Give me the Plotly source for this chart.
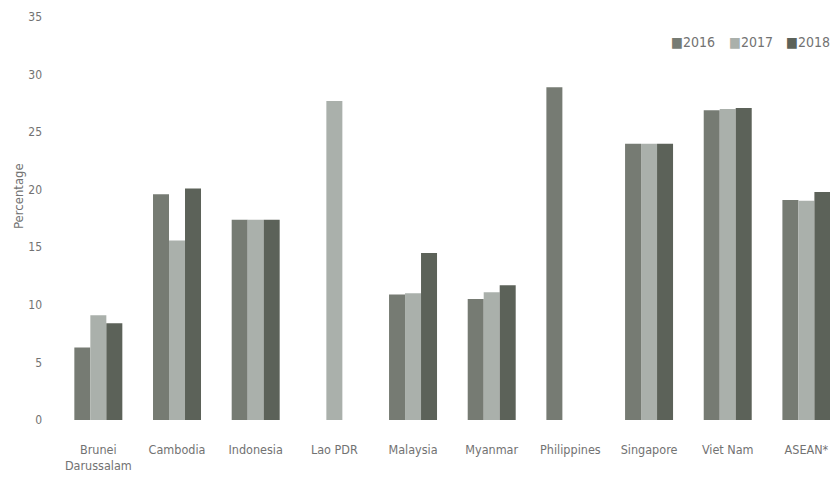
import plotly.graph_objects as go

# Share by country and year (percent)
countries = ["Brunei<br>Darussalam", "Cambodia", "Indonesia", "Lao PDR", "Malaysia",
             "Myanmar", "Philippines", "Singapore", "Viet Nam", "ASEAN*"]
years = ["2016", "2017", "2018"]
values_2016 = [6.3, 19.6, 17.4, None, 10.9, 10.5, 28.9, 24.0, 26.9, 19.1]
values_2017 = [9.1, 15.6, 17.4, 27.7, 11.0, 11.1, None, 24.0, 27.0, 19.05]
values_2018 = [8.4, 20.1, 17.4, None, 14.5, 11.7, None, 24.0, 27.1, 19.8]
y_ticks = [0, 5, 10, 15, 20, 25, 30, 35]

series = [values_2016, values_2017, values_2018]
colors = ["#767b73", "#aab0ab", "#5c6259"]

FONT = "Liberation Sans Narrow, DejaVu Sans Condensed, Roboto, sans-serif"
TEXT = "#727272"

# plot-area geometry in pixels
L, T, W, H = 59, 17, 771, 403

fig = go.Figure()
for name, vals, col in zip(years, series, colors):
    fig.add_trace(go.Bar(x=list(range(len(countries))), y=vals, name=name,
                         marker=dict(color=col, line=dict(width=0))))

# Legend row drawn as coloured squares followed by the year
legend_x0 = 669
legend_step = 57.5
for i, (name, col) in enumerate(zip(years, colors)):
    fig.add_annotation(
        xref="paper", yref="paper",
        x=(legend_x0 + i * legend_step - L) / W, y=(T + H - 42) / H,
        xanchor="left", yanchor="middle", showarrow=False,
        text=f"<span style='color:{col}'>■</span>{name}",
        font=dict(family=FONT, size=14, color=TEXT),
    )

# Axis title
fig.add_annotation(
    xref="paper", yref="paper",
    x=(18 - L) / W, y=(T + H - 196) / H,
    xanchor="center", yanchor="middle", showarrow=False, textangle=-90,
    text="Percentage", font=dict(family=FONT, size=13, color=TEXT),
)

fig.update_layout(
    width=830, height=487,
    margin=dict(l=L, r=830 - L - W, t=T, b=487 - T - H),
    paper_bgcolor="white", plot_bgcolor="white",
    barmode="group", bargap=0.39, bargroupgap=0,
    showlegend=False,
    font=dict(family=FONT, size=12, color=TEXT),
)
fig.update_xaxes(
    range=[-0.5, 9.3],
    tickmode="array", tickvals=list(range(len(countries))), ticktext=countries,
    showgrid=False, zeroline=False, showline=False, ticks="",
    ticklabelstandoff=20,
    tickfont=dict(family=FONT, size=12.5, color=TEXT),
)
fig.update_yaxes(
    range=[0, 35], tickvals=y_ticks,
    showgrid=False, zeroline=False, showline=False, ticks="",
    ticklabelstandoff=16,
    tickfont=dict(family=FONT, size=12, color=TEXT),
)

fig.write_html("out.html")
